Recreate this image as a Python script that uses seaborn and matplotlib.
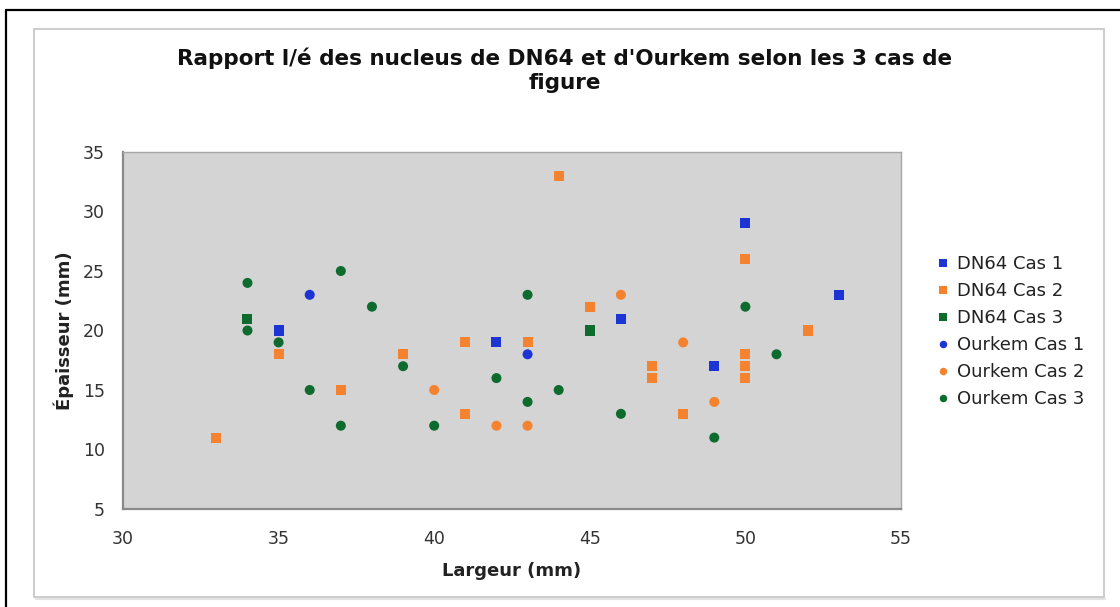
import matplotlib
matplotlib.use("Agg")
import matplotlib.pyplot as plt
from matplotlib.lines import Line2D
from matplotlib.patches import Rectangle
import seaborn as sns
import pandas as pd

# Largeur / épaisseur des nucleus (mm), par site et par cas de figure
dn64_cas1_x = [35, 42, 46, 49, 50, 53]
dn64_cas1_y = [20, 19, 21, 17, 29, 23]

dn64_cas2_x = [33, 35, 37, 39, 41, 41, 43, 44, 45, 47, 47, 48, 50, 50, 50, 50, 52]
dn64_cas2_y = [11, 18, 15, 18, 19, 13, 19, 33, 22, 17, 16, 13, 26, 18, 17, 16, 20]

dn64_cas3_x = [34, 45]
dn64_cas3_y = [21, 20]

ourkem_cas1_x = [36, 43]
ourkem_cas1_y = [23, 18]

ourkem_cas2_x = [40, 42, 43, 46, 48, 49]
ourkem_cas2_y = [15, 12, 12, 23, 19, 14]

ourkem_cas3_x = [34, 34, 35, 36, 37, 37, 38, 39, 40, 42, 43, 43, 44, 46, 49, 50, 51]
ourkem_cas3_y = [24, 20, 19, 15, 25, 12, 22, 17, 12, 16, 23, 14, 15, 13, 11, 22, 18]

series_names = ["DN64 Cas 1", "DN64 Cas 2", "DN64 Cas 3",
                "Ourkem Cas 1", "Ourkem Cas 2", "Ourkem Cas 3"]
series_x = [dn64_cas1_x, dn64_cas2_x, dn64_cas3_x, ourkem_cas1_x, ourkem_cas2_x, ourkem_cas3_x]
series_y = [dn64_cas1_y, dn64_cas2_y, dn64_cas3_y, ourkem_cas1_y, ourkem_cas2_y, ourkem_cas3_y]

x_ticks = [30, 35, 40, 45, 50, 55]
y_ticks = [5, 10, 15, 20, 25, 30, 35]

title = "Rapport l/é des nucleus de DN64 et d'Ourkem selon les 3 cas de\nfigure"
x_label = "Largeur (mm)"
y_label = "Épaisseur (mm)"

blue = "#1c34d4"
orange = "#f5822f"
green = "#0d6b2e"
palette = dict(zip(series_names, [blue, orange, green, blue, orange, green]))
markers = dict(zip(series_names, ["s", "s", "s", "o", "o", "o"]))

frames = []
for name, xs, ys in zip(series_names, series_x, series_y):
    frames.append(pd.DataFrame({"Largeur": xs, "Epaisseur": ys, "Série": name}))
df = pd.concat(frames, ignore_index=True)

sns.set_theme(style="white")
plt.rcParams["font.family"] = ["DejaVu Sans"]

W, H = 1120, 607
fig = plt.figure(figsize=(W / 100, H / 100), dpi=100)
fig.patch.set_facecolor("white")

# outer black border (left and top) and the light chart frame
fig.add_artist(Line2D([6 / W, 6 / W], [0, 1 - 10 / H], transform=fig.transFigure,
                      color="black", lw=1.6))
fig.add_artist(Line2D([6 / W, 1], [1 - 10 / H, 1 - 10 / H], transform=fig.transFigure,
                      color="black", lw=1.6))
fig.add_artist(Rectangle((34 / W, 1 - 597 / H), (1104 - 34) / W, (597 - 29) / H,
                         transform=fig.transFigure, fill=False,
                         edgecolor="#c4c4c4", lw=1.2))
fig.add_artist(Line2D([36 / W, 1105 / W], [1 - 598.5 / H, 1 - 598.5 / H],
                      transform=fig.transFigure, color="#e2e2e2", lw=1.5))

ax = fig.add_axes([123 / W, 1 - 509 / H, (901 - 123) / W, (509 - 152) / H])
ax.set_facecolor("#d4d4d4")

sns.scatterplot(data=df, x="Largeur", y="Epaisseur", hue="Série", style="Série",
                palette=palette, markers=markers, hue_order=series_names,
                style_order=series_names, s=52, linewidth=0, ax=ax, legend=True)

ax.set_xlim(30, 55)
ax.set_ylim(5, 35)
ax.set_xticks(x_ticks)
ax.set_yticks(y_ticks)
ax.tick_params(axis="both", which="major", direction="out", length=4, width=1,
               color="#9a9a9a", labelcolor="#333333", labelsize=12.5)
ax.tick_params(axis="x", pad=11)
ax.tick_params(axis="y", pad=9)
for side in ["left", "bottom"]:
    ax.spines[side].set_color("#8a8a8a")
    ax.spines[side].set_linewidth(1.6)
for side in ["top", "right"]:
    ax.spines[side].set_color("#a6a6a6")
    ax.spines[side].set_linewidth(1.0)

ax.set_xlabel(x_label, fontsize=13, fontweight="bold", color="#222222")
ax.set_ylabel(y_label, fontsize=13, fontweight="bold", color="#222222")
ax.xaxis.set_label_coords(0.5, -0.148)
ax.yaxis.set_label_coords(-0.063, 0.5)

fig.text(565 / W, 1 - 70 / H, title, ha="center", va="center", fontsize=15.5,
         fontweight="bold", color="#111111", linespacing=1.25)

handles, labels = ax.get_legend_handles_labels()
ax.legend(handles, labels, loc="upper left", bbox_to_anchor=(938 / W, 1 - 255 / H),
          bbox_transform=fig.transFigure, frameon=False, fontsize=13,
          handlelength=0.6, handletextpad=0.45, labelspacing=0.5, markerscale=0.75,
          borderaxespad=0, borderpad=0, labelcolor="#222222")

fig.savefig("out.png", dpi=100)
